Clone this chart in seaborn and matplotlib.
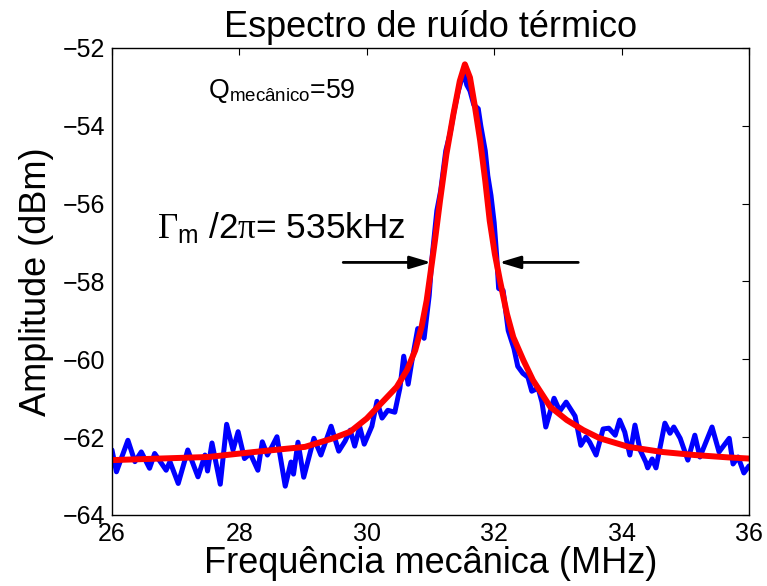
import numpy as np
import pandas as pd
import matplotlib
matplotlib.use("Agg")
import matplotlib.pyplot as plt
import seaborn as sns

# ---- data ----
freq_meas = [26.00, 26.07, 26.25, 26.36, 26.46, 26.59, 26.67, 26.85, 26.91, 27.04,
             27.19, 27.35, 27.46, 27.50, 27.57, 27.70, 27.80, 27.90, 27.98, 28.08,
             28.17, 28.29, 28.36, 28.44, 28.51, 28.59, 28.72, 28.81, 28.85, 28.92,
             29.01, 29.17, 29.28, 29.44, 29.56, 29.66, 29.74, 29.81, 29.89, 29.96,
             30.08, 30.16, 30.24, 30.33, 30.44, 30.52, 30.58, 30.65, 30.71, 30.80,
             30.90, 30.98, 31.02, 31.10, 31.16, 31.24, 31.31, 31.37, 31.43, 31.48,
             31.53, 31.57, 31.62, 31.68, 31.75, 31.79, 31.86, 31.90, 31.95, 32.00,
             32.04, 32.07, 32.14, 32.22, 32.31, 32.37, 32.45, 32.53, 32.59, 32.69,
             32.75, 32.81, 32.94, 33.03, 33.13, 33.27, 33.36, 33.44, 33.50, 33.60,
             33.71, 33.80, 33.90, 33.97, 34.05, 34.13, 34.21, 34.29, 34.38, 34.41,
             34.48, 34.54, 34.68, 34.76, 34.82, 34.92, 35.04, 35.15, 35.23, 35.42,
             35.53, 35.69, 35.75, 35.83, 35.92, 36.00]
amp_meas = [-62.33, -62.89, -62.08, -62.63, -62.38, -62.80, -62.42, -62.85, -62.63, -63.19,
            -62.33, -63.02, -62.46, -62.87, -62.15, -63.21, -61.67, -62.33, -61.86, -62.55,
            -62.42, -62.85, -62.12, -62.46, -62.25, -61.99, -63.26, -62.64, -62.95, -62.13,
            -63.03, -62.03, -62.46, -61.72, -62.36, -62.10, -61.82, -62.23, -61.74, -62.18,
            -61.72, -61.08, -61.51, -61.31, -61.36, -60.74, -59.92, -60.64, -60.03, -59.21,
            -59.46, -58.36, -57.46, -56.18, -55.67, -54.64, -54.18, -53.62, -53.15, -52.85,
            -52.67, -52.95, -53.10, -53.46, -53.56, -54.00, -54.64, -55.28, -55.79, -56.49,
            -57.36, -58.18, -58.23, -59.26, -59.72, -60.18, -60.36, -60.46, -60.82, -60.74,
            -61.10, -61.74, -61.00, -61.33, -61.10, -61.46, -62.21, -62.00, -62.13, -62.46,
            -61.79, -61.77, -61.95, -61.56, -61.87, -62.46, -61.69, -62.33, -62.64, -62.79,
            -62.56, -62.79, -61.64, -61.90, -61.74, -62.03, -62.59, -61.95, -62.51, -61.74,
            -62.38, -62.03, -62.69, -62.51, -62.92, -62.74]

freq_fit = [26.00, 26.75, 27.51, 28.24, 29.03, 29.47, 29.74, 30.00, 30.25, 30.47,
            30.63, 30.76, 30.86, 30.94, 31.02, 31.07, 31.15, 31.25, 31.36, 31.46,
            31.54, 31.62, 31.70, 31.78, 31.86, 31.93, 32.01, 32.09, 32.20, 32.30,
            32.46, 32.61, 32.88, 33.14, 33.40, 33.66, 34.11, 34.63, 35.15, 35.67, 36.00]
amp_fit = [-62.59, -62.55, -62.51, -62.38, -62.25, -62.03, -61.86, -61.52, -61.09, -60.71,
           -60.28, -59.77, -59.17, -58.49, -57.55, -56.95, -55.92, -54.73, -53.70, -52.85,
           -52.42, -52.76, -53.53, -54.38, -55.41, -56.44, -57.29, -57.97, -58.83, -59.43,
           -60.03, -60.54, -61.22, -61.56, -61.82, -62.03, -62.25, -62.38, -62.46, -62.52, -62.55]

x_ticks = [26, 28, 30, 32, 34, 36]
y_ticks = [-64, -62, -60, -58, -56, -54, -52]

title_txt = "Espectro de ruído térmico"
xlabel_txt = "Frequência mecânica (MHz)"
ylabel_txt = "Amplitude (dBm)"

# ---- style ----
sns.set_theme(style="white")
plt.rcParams["font.family"] = ["Liberation Sans", "DejaVu Sans"]
plt.rcParams["text.color"] = "black"
plt.rcParams["axes.labelcolor"] = "black"
plt.rcParams["xtick.color"] = "black"
plt.rcParams["ytick.color"] = "black"
plt.rcParams["mathtext.fontset"] = "custom"
plt.rcParams["mathtext.rm"] = "Liberation Serif"
plt.rcParams["mathtext.it"] = "Liberation Serif:italic"
plt.rcParams["mathtext.sf"] = "Liberation Sans"

fig = plt.figure(figsize=(7.67, 5.86), dpi=100)
ax = fig.add_axes([0.1460, 0.1212, 0.8305, 0.7969])

df_meas = pd.DataFrame({"f": freq_meas, "a": amp_meas})
df_fit = pd.DataFrame({"f": freq_fit, "a": amp_fit})

sns.lineplot(data=df_meas, x="f", y="a", ax=ax, color="#0000FF", lw=3.6,
             estimator=None, sort=False, solid_joinstyle="round")
sns.lineplot(data=df_fit, x="f", y="a", ax=ax, color="#FF0000", lw=4.3,
             estimator=None, sort=False, solid_joinstyle="round")

ax.set_xlim(26, 36)
ax.set_ylim(-64, -52)
ax.set_xticks(x_ticks)
ax.set_yticks(y_ticks)
ax.tick_params(direction="in", length=5, width=0.8, top=True, right=True,
               labelsize=18, pad=5, colors="black", labelcolor="black")
for s in ax.spines.values():
    s.set_color("black")
    s.set_linewidth(1.0)

ax.set_title(title_txt, fontsize=26, pad=8, color="black")
ax.set_xlabel(xlabel_txt, fontsize=26, labelpad=0, color="black")
ax.set_ylabel(ylabel_txt, fontsize=26, labelpad=6, color="black")

ax.text(27.51, -53.28, r"Q$_{\mathsf{mecânico}}$=59", fontsize=19.3,
        va="baseline", ha="left", color="black")
ax.text(26.71, -56.90, r"$\mathrm{\Gamma}_{\mathsf{m}}$ /2$\mathrm{\pi}$= 535kHz",
        fontsize=25.3, va="baseline", ha="left", color="black")

arrow_style = "-|>,head_length=0.4,head_width=0.12"
ax.annotate("", xy=(31.01, -57.51), xytext=(29.63, -57.51),
            arrowprops=dict(arrowstyle=arrow_style, color="black", lw=2,
                            mutation_scale=32, shrinkA=0, shrinkB=0))
ax.annotate("", xy=(32.08, -57.51), xytext=(33.32, -57.51),
            arrowprops=dict(arrowstyle=arrow_style, color="black", lw=2,
                            mutation_scale=32, shrinkA=0, shrinkB=0))

fig.savefig("out.png", dpi=100)
